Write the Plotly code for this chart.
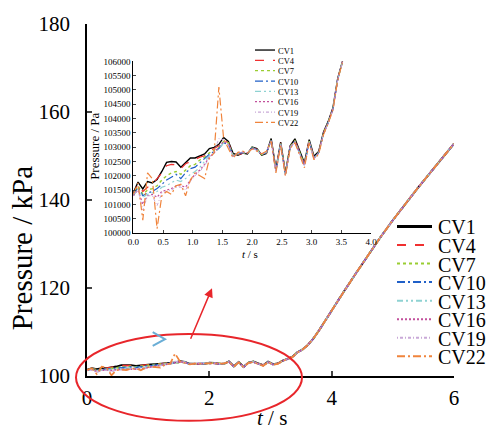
import plotly.graph_objects as go

# ---------------- data ----------------
names = ["CV1", "CV4", "CV7", "CV10", "CV13", "CV16", "CV19", "CV22"]
colors = ["#000000", "#f03030", "#9acd32", "#2060c8", "#8ed2d2", "#c2509c", "#c9a9d8", "#f0843c"]
dashes = ["solid", "dash", "dot", "8px,3px,2px,3px", "6px,3px,2px,3px,2px,3px",
          "2px,2px", "1px,2px,3px,2px", "8px,3px,2px,3px"]
widths = [1.6, 1.4, 1.6, 1.4, 1.4, 1.4, 1.2, 1.4]

# time grid of inset / low-pressure stage (s)
t_low = [0.00, 0.08, 0.16, 0.24, 0.32, 0.40, 0.48, 0.56, 0.64, 0.72, 0.80, 0.88,
         0.96, 1.04, 1.12, 1.20, 1.28, 1.36, 1.44, 1.52, 1.60, 1.68, 1.76, 1.84,
         1.92, 2.00, 2.08, 2.16, 2.24, 2.32, 2.40, 2.48, 2.56, 2.64, 2.72, 2.80,
         2.88, 2.96, 3.04, 3.12, 3.20, 3.28, 3.36, 3.44, 3.52]

# pressure (Pa)
cv1 = [101400, 101780, 101540, 101800, 101750, 101870, 102150, 102470, 102500, 102480, 102300, 102450,
       102620, 102620, 102700, 102760, 102950, 102990, 103100, 103340, 103200,
       102780, 102720, 102790, 102760, 103000, 102950, 102720, 102780, 103300, 102230, 103180,
       102100, 103050, 103290, 102850, 102450, 103260, 102680, 102850, 103520, 103900, 104380,
       105400, 106000]
cv4 = [101350, 101700, 101450, 101600, 101700, 101900, 102100, 102350, 102400, 102380, 102250, 102420,
       102500, 102560, 102650, 102700, 102850, 102950, 103050, 103250, 103150,
       102750, 102740, 102780, 102780, 102980, 102930, 102730, 102790, 103280, 102200, 103150,
       102080, 103030, 103250, 102820, 102420, 103230, 102650, 102830, 103500, 103880, 104360,
       105380, 106000]
cv7 = [101300, 101650, 101350, 101500, 101550, 101650, 101850, 102000, 102100, 102150, 102050, 102200,
       102350, 102400, 102550, 102650, 102800, 102900, 103000, 103200, 103150,
       102720, 102760, 102800, 102770, 102990, 102920, 102740, 102800, 103250, 102180, 103130,
       102060, 103020, 103220, 102800, 102400, 103210, 102630, 102820, 103480, 103870, 104350,
       105380, 105990]
cv10 = [101300, 101600, 101300, 101400, 101450, 101550, 101700, 101850, 101950, 102050, 101900, 102100,
        102250, 102300, 102450, 102600, 102750, 102850, 102950, 103150, 103100,
        102700, 102770, 102810, 102780, 102980, 102910, 102740, 102810, 103240, 102170, 103120,
        102050, 103010, 103200, 102790, 102380, 103200, 102620, 102810, 103470, 103860, 104340,
        105370, 105990]
cv13 = [101300, 101550, 101250, 101350, 101400, 101450, 101600, 101650, 101750, 101850, 101800, 101900,
        102050, 102150, 102300, 102500, 102700, 102800, 102950, 103150, 103100,
        102690, 102780, 102820, 102790, 102970, 102900, 102750, 102820, 103230, 102160, 103110,
        102040, 103000, 103190, 102780, 102370, 103190, 102610, 102800, 103460, 103850, 104330,
        105360, 105980]
cv16 = [101300, 101500, 101000, 101300, 101350, 101250, 101450, 101500, 101550, 101650, 101650, 101600,
        101850, 102050, 102200, 102400, 102650, 102800, 103000, 103200, 103100,
        102680, 102790, 102830, 102800, 102960, 102890, 102750, 102830, 103220, 102150, 103100,
        102030, 102990, 103180, 102770, 102360, 103180, 102600, 102790, 103450, 103840, 104320,
        105360, 105980]
cv19 = [101300, 101500, 100800, 101300, 101300, 100950, 101400, 101450, 101500, 101600, 101600, 101500,
        101800, 102000, 102150, 102350, 102650, 102850, 103300, 103250, 103100,
        102660, 102800, 102840, 102800, 102950, 102880, 102760, 102840, 103210, 102140, 103090,
        102020, 102980, 103170, 102760, 102340, 103170, 102590, 102780, 103440, 103840, 104310,
        105350, 105970]
cv22 = [101350, 101750, 100450, 102100, 101900, 100150, 101300, 101450, 101350, 101650, 101700, 101300,
        101850, 102100, 102000, 101900, 102600, 102800, 105100, 103300, 102950,
        102620, 102820, 102860, 102790, 102940, 102860, 102770, 102860, 103200, 102100, 103080,
        101980, 102960, 103150, 102740, 102280, 103150, 102560, 102760, 103430, 103830, 104300,
        105340, 105970]
series_pa = [cv1, cv4, cv7, cv10, cv13, cv16, cv19, cv22]

# pressurisation stage, all CVs coincide (kPa)
t_rise = [3.6, 3.7, 3.8, 4.0, 4.2, 4.4, 4.6, 4.8, 5.0, 5.2, 5.4, 5.6, 5.8, 6.0]
p_rise = [106.9, 108.5, 110.5, 115.0, 119.2, 123.4, 127.6, 131.6, 135.4, 139.1, 142.6, 146.0, 149.4, 152.8]

main_xticks = [0, 2, 4, 6]
main_yticks = [100, 120, 140, 160, 180]

# ---------------- layout geometry (pixels) ----------------
W, H = 500, 431
L, R, T, B = 87, 454, 15, 376


def px(x):
    return (x - L) / (R - L)


def py(y):
    return (B - y) / (B - T)


FONT = "Liberation Serif"
fig = go.Figure()

# main traces
for n, c, d, w, pa in zip(names, colors, dashes, widths, series_pa):
    fig.add_trace(go.Scatter(
        x=t_low + t_rise, y=[v / 1000 for v in pa] + p_rise,
        mode="lines", line=dict(color=c, dash=d, width=w + 0.3),
        showlegend=False, xaxis="x", yaxis="y"))

# inset traces
for n, c, d, w, pa in zip(names, colors, dashes, widths, series_pa):
    fig.add_trace(go.Scatter(
        x=t_low, y=pa, mode="lines", line=dict(color=c, dash=d, width=w - 0.2),
        showlegend=False, xaxis="x2", yaxis="y2"))

shapes = []
annotations = []

# main legend (drawn manually for tight spacing)
row0, step = 222.7, 19.0
for i, (n, c, d) in enumerate(zip(names, colors, dashes)):
    y = row0 + i * step
    shapes.append(dict(type="line", xref="paper", yref="paper",
                       x0=px(397), x1=px(432), y0=py(y), y1=py(y),
                       line=dict(color=c, dash=d, width=3 if i == 0 else 2)))
    annotations.append(dict(xref="paper", yref="paper", x=px(436), y=py(y + 1),
                            text=n, showarrow=False, xanchor="left", yanchor="middle",
                            font=dict(family=FONT, size=20, color="black")))

# inset legend
row0, step = 41.7, 10.6
for i, (n, c, d) in enumerate(zip(names, colors, dashes)):
    y = row0 + i * step
    shapes.append(dict(type="line", xref="paper", yref="paper",
                       x0=px(255), x1=px(275), y0=py(y), y1=py(y),
                       line=dict(color=c, dash=d, width=1.3)))
    annotations.append(dict(xref="paper", yref="paper", x=px(276), y=py(y + 0.5),
                            text=n, showarrow=False, xanchor="left", yanchor="middle",
                            font=dict(family=FONT, size=8.5, color="black")))

# red ellipse
shapes.append(dict(type="circle", xref="paper", yref="paper",
                   x0=px(76), x1=px(302), y0=py(422), y1=py(333),
                   line=dict(color="#e8262b", width=2)))
# light blue chevron
shapes.append(dict(type="path", xref="paper", yref="paper",
                   path=f"M {px(152.7)},{py(331)} L {px(165)},{py(338.3)} L {px(152.7)},{py(345)}",
                   line=dict(color="#6aaed6", width=2)))
# red arrow to inset
annotations.append(dict(xref="paper", yref="paper", x=px(212), y=py(286),
                        ax=-22, ay=52, showarrow=True, arrowhead=2, arrowsize=1.2,
                        arrowwidth=1.5, arrowcolor="#e8262b", text=""))

# axis titles
annotations.append(dict(xref="paper", yref="paper", x=px(22), y=py(245),
                        text="Pressure / kPa", textangle=-90, showarrow=False,
                        xanchor="center", yanchor="middle",
                        font=dict(family=FONT, size=29, color="black")))
annotations.append(dict(xref="paper", yref="paper", x=px(272), y=py(419),
                        text="<i>t</i> / s", showarrow=False,
                        xanchor="center", yanchor="middle",
                        font=dict(family=FONT, size=21, color="black")))
annotations.append(dict(xref="paper", yref="paper", x=px(95), y=py(141),
                        text="Pressure / Pa", textangle=-90, showarrow=False,
                        xanchor="center", yanchor="middle",
                        font=dict(family=FONT, size=13, color="black")))
annotations.append(dict(xref="paper", yref="paper", x=px(250), y=py(251),
                        text="<i>t</i> / s", showarrow=False,
                        xanchor="center", yanchor="middle",
                        font=dict(family=FONT, size=11, color="black")))

fig.update_layout(
    width=W, height=H,
    margin=dict(l=L, r=W - R, t=T, b=H - B),
    paper_bgcolor="white", plot_bgcolor="rgba(0,0,0,0)",
    font=dict(family=FONT, color="black"),
    showlegend=False,
    shapes=shapes, annotations=annotations,
    xaxis=dict(domain=[0, 1], range=[0, 6], tickvals=main_xticks,
               ticks="inside", ticklen=5, tickwidth=1.5, showline=True, linewidth=1.5,
               linecolor="black", showgrid=False, zeroline=False,
               tickfont=dict(family=FONT, size=21), ticklabelstandoff=2),
    yaxis=dict(domain=[0, 1], range=[100, 180], tickvals=main_yticks,
               ticks="inside", ticklen=5, tickwidth=1.5, showline=True, linewidth=1.5,
               linecolor="black", showgrid=False, zeroline=False,
               tickfont=dict(family=FONT, size=21), ticklabelstandoff=11),
    xaxis2=dict(domain=[px(133.3), px(371)], range=[0, 4], dtick=0.5, tick0=0,
                tickformat=".1f", anchor="y2",
                ticks="inside", ticklen=3, showline=True, linewidth=1,
                linecolor="black", showgrid=False, zeroline=False,
                tickfont=dict(family=FONT, size=9)),
    yaxis2=dict(domain=[py(229.3), py(53.3)], range=[100000, 106000], dtick=500, tick0=100000,
                tickformat="d", anchor="x2",
                ticks="inside", ticklen=3, showline=True, linewidth=1,
                linecolor="black", showgrid=False, zeroline=False,
                tickfont=dict(family=FONT, size=9)),
)

fig.write_html("out.html", config={"displayModeBar": False},
               post_script="document.body.style.margin='0';document.body.style.overflow='hidden';")
